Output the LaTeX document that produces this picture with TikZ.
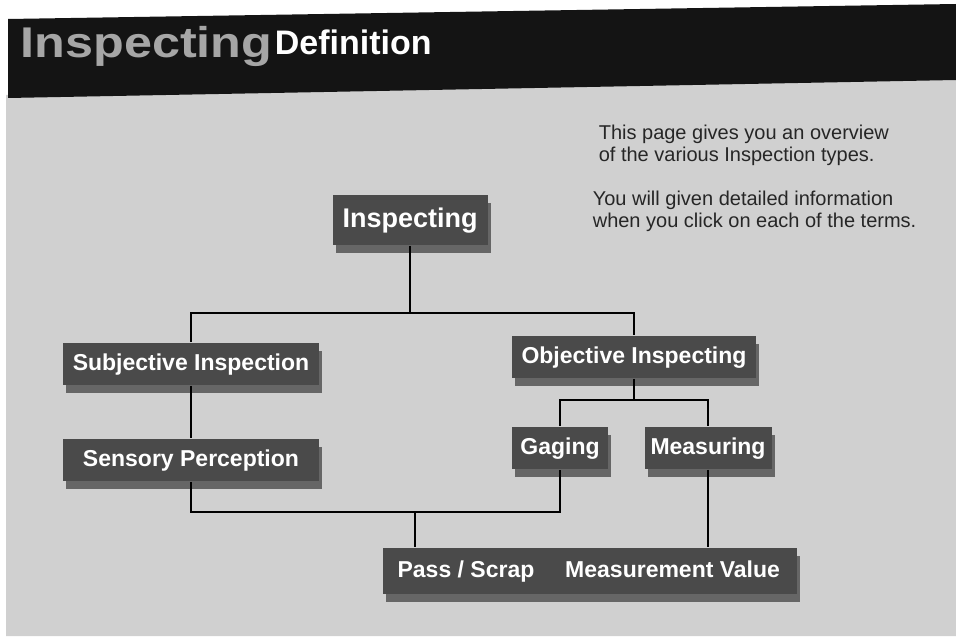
\documentclass[tikz,border=0pt]{standalone}
\usepackage{fontspec}
\setmainfont{Liberation Sans}
\usepackage{tikz}
\usetikzlibrary{positioning,shadows}
\definecolor{paper}{RGB}{208,208,208}
\definecolor{boxgray}{RGB}{74,74,74}
\definecolor{bargray}{RGB}{20,20,20}

\begin{document}
\begin{tikzpicture}[x=0.5pt, y=-0.5pt, node distance={48pt}, line width=0.8pt,
    main/.style = {fill=boxgray, text=white, font=\bfseries\fontsize{11.5}{13}\selectfont, inner xsep=5pt, text height=8.6pt, text depth=2.4pt, minimum height=21pt, drop shadow={shadow xshift=1.5pt, shadow yshift=-4pt, fill=black!60, opacity=1}},
    info/.style = {align=left, anchor=north west, inner sep=0pt, text=black!85, font=\fontsize{10}{11}\selectfont}]
    \useasboundingbox (0,0) rectangle (956,636);
    \fill[white] (0,0) rectangle (956,636);
    \fill[paper] (6,95) -- (956,78) -- (956,636) -- (6,636) -- cycle;
    \fill[bargray] (8,19) -- (956,4) -- (956,80) -- (8,98) -- cycle;
    \node[anchor=base west, inner sep=0pt, text=gray!70, font=\bfseries\fontsize{21.5}{24}\selectfont] (h1) at (20,58) {\scalebox{1.17}[1]{Inspecting}};
    \node[anchor=base west, inner sep=0pt, text=white, font=\bfseries\fontsize{17}{20}\selectfont] (h2) at (274,55) {Definition};
    \node[info] (9) at (598,124) {This page gives you an overview\\of the various Inspection types.};
    \node[info] (10) at (592,190) {You will given detailed information\\when you click on each of the terms.};
    \node[main, font=\bfseries\fontsize{13.5}{15}\selectfont, text height=10pt, text depth=3pt, minimum height=25pt] (1) at (410,220) {Inspecting};
    \node[main, minimum width=128pt] (2) at (191,364) {Subjective Inspection};
    \node[main, minimum width=128pt, below of=2] (3) {Sensory Perception};
    \node[main] (4) at (634,357) {Objective Inspecting};
    \node[main, inner xsep=4pt] (5) at (560,448) {Gaging};
    \node[main, inner xsep=3pt, right of=5, node distance=74pt] (6) {Measuring};
    \node[main, minimum width=83pt, minimum height=23pt] (7) at (466,571) {Pass / Scrap};
    \node[main, minimum width=124pt, minimum height=23pt, right=-1pt of 7] (8) {Measurement Value};
    \coordinate (a) at (410,313);
    \coordinate (b) at (415,512);
    \coordinate (c) at (634,400);
    \draw (1) -- (a);
    \draw (2) -- (2 |- a) -| (4);
    \draw (2) -- (3);
    \draw (3) -- (3 |- b) -| (5);
    \draw (b) -- (b |- 7.north);
    \draw (4) -- (c);
    \draw (5) |- (c) -| (6);
    \draw (6) -- (6 |- 8.north);
  \end{tikzpicture}
\end{document}
